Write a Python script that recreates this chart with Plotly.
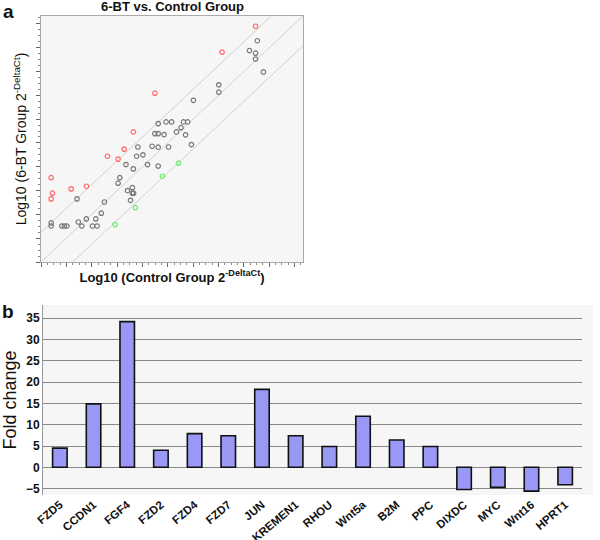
import plotly.graph_objects as go

# ---------------- Panel a: scatter data (axis units) ----------------
gray_x = [8.53, 8.22, 8.46, 8.46, 8.77, 7.01, 7.01, 6.01, 4.62, 4.93, 5.15, 5.62, 5.78,
          5.52, 5.34, 4.49, 4.62, 4.85, 5.70, 5.93, 3.82, 4.38, 4.62, 5.03, 3.77, 4.02,
          3.35, 4.20, 4.62, 3.64, 3.11, 3.04, 3.60, 3.41, 3.60, 3.65, 3.53, 1.42, 2.50,
          2.38, 1.79, 2.16, 1.47, 1.61, 2.03, 2.21, 0.40, 0.40, 0.82, 0.92, 1.02]
gray_y = [9.29, 8.88, 8.77, 8.52, 7.98, 7.44, 7.13, 6.79, 5.81, 5.88, 5.88, 5.88, 5.88,
          5.64, 5.46, 5.39, 5.39, 5.35, 5.34, 4.93, 4.83, 4.86, 4.82, 4.83, 4.44, 4.50,
          4.09, 4.09, 4.03, 3.91, 3.54, 3.31, 3.12, 3.00, 2.89, 2.89, 2.59, 2.65, 2.52,
          2.05, 1.81, 1.81, 1.68, 1.51, 1.51, 1.51, 1.64, 1.51, 1.51, 1.51, 1.51]
red_x = [8.46, 7.14, 4.49, 3.64, 3.28, 2.62, 3.04, 0.40, 1.19, 1.79, 0.45, 0.40]
red_y = [9.90, 8.81, 7.09, 5.46, 4.74, 4.44, 4.32, 3.54, 3.07, 3.18, 2.89, 2.65]
green_x = [5.42, 4.79, 3.72, 2.92]
green_y = [4.15, 3.60, 2.28, 1.57]
fold_offsets = [1.25, 0.0, -1.25]
axis_max = 10.33

# ---------------- Panel b: bar data ----------------
genes = ["FZD5", "CCDN1", "FGF4", "FZD2", "FZD4", "FZD7", "JUN", "KREMEN1",
         "RHOU", "Wnt5a", "B2M", "PPC", "DIXDC", "MYC", "Wnt16", "HPRT1"]
fold_change = [4.5, 14.9, 34.2, 4.0, 7.9, 7.4, 18.3, 7.4,
               4.9, 12.0, 6.4, 4.9, -5.2, -4.7, -5.6, -4.1]
bar_ticks = [-5, 0, 5, 10, 15, 20, 25, 30, 35]

W, H = 600, 540
def px(x): return x / W
def py(y): return 1 - y / H

FONT = "Arial, Liberation Sans, sans-serif"
fig = go.Figure()

# reference fold lines
for off in fold_offsets:
    xs = [max(0, -off), min(axis_max, axis_max - off)]
    ys = [x + off for x in xs]
    fig.add_trace(go.Scatter(x=xs, y=ys, mode="lines", line=dict(color="#d0d0d0", width=1),
                             xaxis="x", yaxis="y", hoverinfo="skip", showlegend=False))

for xs, ys, col in [(gray_x, gray_y, "#777777"), (red_x, red_y, "#ff6666"), (green_x, green_y, "#66ee66")]:
    fig.add_trace(go.Scatter(x=xs, y=ys, mode="markers",
                             marker=dict(symbol="circle-open", size=4.5, color=col, line=dict(width=1.2)),
                             xaxis="x", yaxis="y", showlegend=False))

fig.add_trace(go.Bar(x=genes, y=fold_change, width=0.43,
                     marker=dict(color="#9999f5", line=dict(color="#111111", width=1.6)),
                     xaxis="x2", yaxis="y2", showlegend=False))

minor = dict(dtick=0.25, ticklen=2, tickcolor="#888", ticks="outside")
fig.update_layout(
    width=W, height=H, margin=dict(l=0, r=0, t=0, b=0, autoexpand=False),
    paper_bgcolor="white", plot_bgcolor="#f6f6f6",
    font=dict(family=FONT, color="#111"),
    xaxis=dict(domain=[px(41), px(303)], range=[0, axis_max], anchor="y", automargin=False,
               showgrid=False, zeroline=False, showticklabels=False,
               ticks="outside", ticklen=4, tickcolor="#666", dtick=1, tick0=0,
               minor=minor, showline=True, linecolor="#aaaaaa", mirror=True,
               title=dict(text="<b>Log10 (Control Group 2<sup>-DeltaCt</sup>)</b>",
                          font=dict(size=13), standoff=6)),
    yaxis=dict(domain=[py(262), py(16)], range=[0, axis_max], anchor="x", automargin=False,
               showgrid=False, zeroline=False, showticklabels=False,
               ticks="outside", ticklen=4, tickcolor="#666", dtick=1, tick0=0,
               minor=minor, showline=True, linecolor="#aaaaaa", mirror=True,
               title=dict(text="Log10 (6-BT Group 2<sup>-DeltaCt</sup>)",
                          font=dict(size=14), standoff=6)),
    xaxis2=dict(domain=[px(43), px(582)], range=[-0.5, 15.5], anchor="y2", automargin=False,
                showgrid=False, zeroline=False, ticks="", tickangle=-40,
                tickfont=dict(size=11.5, weight="bold", color="#111")),
    yaxis2=dict(domain=[py(495), py(305)], range=[-6.5, 38.1], anchor="x2", automargin=False,
                tickvals=bar_ticks, showgrid=True, gridcolor="#888888", gridwidth=1,
                zeroline=False, showline=True, linecolor="#999999", ticks="",
                tickfont=dict(size=12, weight="bold", color="#111"),
                title=dict(text="Fold change", font=dict(size=18), standoff=6)),
    shapes=[dict(type="rect", xref="paper", yref="paper", x0=px(43), x1=px(593),
                 y0=py(495), y1=py(305), fillcolor="#f6f6f6", line=dict(width=0), layer="below")],
    annotations=[
        dict(text="<b>6-BT vs. Control Group</b>", x=px(172), y=py(7), xref="paper", yref="paper",
             showarrow=False, font=dict(size=13), xanchor="center", yanchor="middle"),
        dict(text="<b>a</b>", x=px(8), y=py(11), xref="paper", yref="paper",
             showarrow=False, font=dict(size=19), xanchor="center", yanchor="middle"),
        dict(text="<b>b</b>", x=px(8), y=py(311), xref="paper", yref="paper",
             showarrow=False, font=dict(size=19), xanchor="center", yanchor="middle"),
    ],
)

fig.write_html("out.html", config={"displayModeBar": False},
               post_script="document.body.style.margin='0';document.body.style.overflow='hidden';")
